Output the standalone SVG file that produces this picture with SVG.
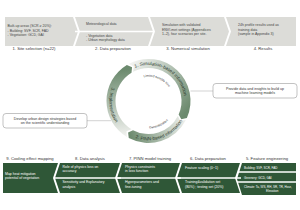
<svg xmlns="http://www.w3.org/2000/svg" width="300" height="210" viewBox="0 0 300 210">
<style>
text{font-family:"Liberation Sans",Arial,sans-serif}
.lbl{font-size:4.2px;fill:#333;text-anchor:middle}
.tb{fill:#dcdcd8}
.tt{font-size:3.5px;fill:#444}
.bb{fill:#2f5737}
.bt{font-size:3.5px;fill:#fff}
.bs{font-size:3px;fill:#fff}
.cut{stroke:#fff;stroke-width:1.4}
.call{fill:#fff;stroke:#9a9a9a;stroke-width:0.6}
.ct{font-size:3.6px;fill:#333;text-anchor:middle}
.ring{font-size:4.6px;fill:#2b3a2c;text-anchor:middle}
.inner{font-size:3.2px;fill:#333;text-anchor:middle}
.conn{stroke:#b5b5b5;stroke-width:0.6;fill:none}
</style>
<defs>
<linearGradient id="g1" gradientUnits="userSpaceOnUse" x1="132" y1="64" x2="189" y2="108"><stop offset="0" stop-color="#f1f2ef"/><stop offset="1" stop-color="#6c8a6e"/></linearGradient>
<linearGradient id="g2" gradientUnits="userSpaceOnUse" x1="185" y1="118" x2="130" y2="137"><stop offset="0" stop-color="#f1f2ef"/><stop offset="1" stop-color="#6c8a6e"/></linearGradient>
<linearGradient id="g3" gradientUnits="userSpaceOnUse" x1="126" y1="136" x2="120" y2="70"><stop offset="0" stop-color="#f1f2ef"/><stop offset="1" stop-color="#6c8a6e"/></linearGradient>
<path id="p1" d="M127.9,71.6 A35.8,35.8 0 0 1 184.2,104.1"/>
<path id="p2" d="M130.1,135.8 A39.3,39.3 0 0 0 184.9,115.7"/>
<path id="p3r" d="M115.2,80.3 A39.3,39.3 0 0 0 120.7,128.8"/>
<path id="p4" d="M140.4,78.2 A24.2,24.2 0 0 1 170.5,90.3"/>
<path id="p5" d="M143.9,128.0 A27.5,27.5 0 0 0 171.5,116.4"/>
</defs>

<!-- top row -->
<g id="n1"><polygon class="tb" points="5,17 73,17 78,31.5 73,46 5,46"/>
<text class="tt" x="7.5" y="27">Built-up areas (SCR ≥ 20%):</text>
<text class="tt" x="7.5" y="31.5">- Building: SVF, SCR, FAD</text>
<text class="tt" x="7.5" y="36">- Vegetation: GCD, GAI</text>
<text class="lbl" x="34" y="50">1. Site selection (n=22)</text></g>
<g id="n2"><polygon class="tb" points="75,17 148,17 153,31.5 148,46 75,46 80,31.5"/>
<line class="cut" x1="75" y1="31.5" x2="153" y2="31.5"/>
<text class="tt" x="86" y="25">Meteorological data</text>
<text class="tt" x="86" y="37">- Vegetation data</text>
<text class="tt" x="86" y="41">- Urban morphology data</text>
<text class="lbl" x="113" y="50">2. Data preparation</text></g>
<g id="n3"><polygon class="tb" points="150,17 224,17 229,31.5 224,46 150,46 155,31.5"/>
<text class="tt" x="162" y="26">Simulation with validated</text>
<text class="tt" x="162" y="30.5">ENVI-met settings (Appendices</text>
<text class="tt" x="162" y="35">1–2), four scenarios per site.</text>
<text class="lbl" x="188" y="50">3. Numerical simulation</text></g>
<g id="n4"><polygon class="tb" points="226,17 296,17 296,46 226,46 231,31.5"/>
<text class="tt" x="238" y="26">24h profile results used as</text>
<text class="tt" x="238" y="30.5">training data</text>
<text class="tt" x="238" y="35">(sample in Appendix 3)</text>
<text class="lbl" x="263" y="50">4. Results</text></g>

<!-- cycle -->
<g id="cycle">
<path fill="url(#g1)" d="M128.78,63.92 A42,42 0 0 1 186.87,118.08 L181.30,119.18 L178.65,114.42 A33,33 0 0 0 133.01,71.86 L133.85,66.48 Z"/>
<path fill="url(#g2)" d="M185.92,120.07 A42,42 0 0 1 128.78,138.08 L128.08,132.45 L133.01,130.14 A33,33 0 0 0 177.90,115.98 L180.30,120.87 Z"/>
<path fill="url(#g3)" d="M126.87,137.00 A42,42 0 0 1 126.87,65.00 L132.06,67.29 L131.50,72.71 A33,33 0 0 0 131.50,129.29 L126.46,131.34 Z"/>
<text class="ring"><textPath href="#p1" startOffset="50%">1. Simulation-based information</textPath></text>
<text class="ring"><textPath href="#p2" startOffset="50%">2. PINN-based information</textPath></text>
<text class="ring"><textPath href="#p3r" startOffset="50%">3. Implementation</textPath></text>
<text class="inner"><textPath href="#p4" startOffset="50%">Limited sample size</textPath></text>
<text class="inner"><textPath href="#p5" startOffset="50%">Generalization</textPath></text>
</g>

<g id="connectors">
<line class="conn" x1="190.5" y1="91" x2="213" y2="91"/>
<line class="conn" x1="87" y1="120.7" x2="111" y2="120.7"/>
</g>

<g id="callR"><rect class="call" x="213" y="83.5" width="84" height="14.5" rx="3"/>
<text class="ct" x="255" y="89.5">Provide data and insights to build up</text>
<text class="ct" x="255" y="93.8">machine learning models</text></g>
<g id="callL"><rect class="call" x="3" y="113.5" width="84" height="14.5" rx="3"/>
<text class="ct" x="45" y="119.5">Develop urban design strategies based</text>
<text class="ct" x="45" y="123.8">on the scientific understanding</text></g>

<!-- bottom row -->
<g id="n5"><polygon class="bb" points="242,163 296,163 296,195 242,195 237,179"/>
<line class="cut" x1="236" y1="172" x2="297" y2="172"/>
<line class="cut" x1="236" y1="182" x2="297" y2="182"/>
<text class="bs" x="244" y="168.8">Building: SVF, SCR, FAD</text>
<text class="bs" x="244" y="178.5">Greenery: GCD, GAI</text>
<text class="bs" x="244" y="188">Climate: Ta, WS, RH, SR, TR, Hour,</text>
<text class="bs" x="266" y="192">Elevation</text>
<text class="lbl" x="267" y="160">5. Feature engineering</text></g>
<g id="n6"><polygon class="bb" points="182,163 240,163 235,178 240,193 182,193 177,178"/>
<line class="cut" x1="176" y1="178" x2="241" y2="178"/>
<text class="bt" x="185" y="168.5">Feature scaling (0~1)</text>
<text class="bt" x="185" y="183">Training&amp;validation set</text>
<text class="bt" x="185" y="187.5">(80%) ; testing set (20%)</text>
<text class="lbl" x="208" y="160">6. Data preparation</text></g>
<g id="n7"><polygon class="bb" points="122,163 180,163 175,178 180,193 122,193 117,178"/>
<line class="cut" x1="116" y1="178" x2="181" y2="178"/>
<text class="bt" x="125" y="167.5">Physics constraints</text>
<text class="bt" x="125" y="172">in loss function</text>
<text class="bt" x="125" y="183">Hyperparameters and</text>
<text class="bt" x="125" y="187.5">fine-tuning</text>
<text class="lbl" x="150" y="160">7. PINN model training</text></g>
<g id="n8"><polygon class="bb" points="60,163 120,163 115,178 120,193 60,193 55,178"/>
<line class="cut" x1="54" y1="178" x2="121" y2="178"/>
<text class="bt" x="62.5" y="167.5">Role of physics loss on</text>
<text class="bt" x="62.5" y="172">accuracy</text>
<text class="bt" x="62.5" y="183">Sensitivity and Explanatory</text>
<text class="bt" x="62.5" y="187.5">analysis</text>
<text class="lbl" x="90" y="160">8. Data analysis</text></g>
<g id="n9"><polygon class="bb" points="3,163 58,163 53,178 58,193 3,193"/>
<text class="bt" x="5" y="174.5">Map heat mitigation</text>
<text class="bt" x="5" y="179">potential of vegetation</text>
<text class="lbl" x="30" y="160">9. Cooling effect mapping</text></g>
</svg>
